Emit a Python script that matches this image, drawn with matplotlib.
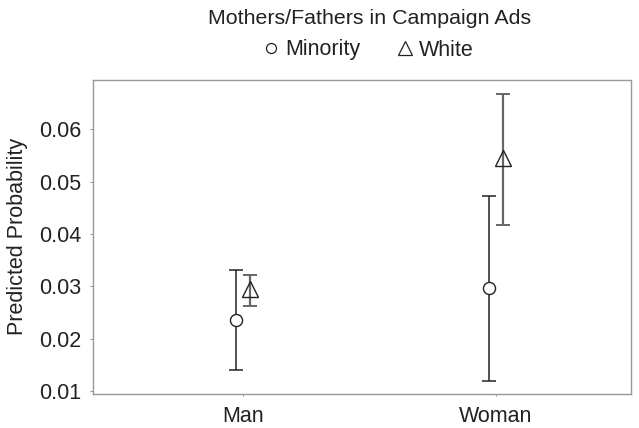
import matplotlib
matplotlib.use("Agg")
from matplotlib import pyplot as plt
from matplotlib.lines import Line2D

plt.rcParams['font.family'] = ['Liberation Sans', 'DejaVu Sans']

# datos
categorias = ["Man", "Woman"]
minoria = [0.0236, 0.0297]
minoria_lo = [0.0140, 0.0119]
minoria_hi = [0.0331, 0.0472]
blanco = [0.0295, 0.0545]
blanco_lo = [0.0262, 0.0417]
blanco_hi = [0.0322, 0.0667]

x = [1, 2]
d = 0.027

fig = plt.figure(figsize=(6.39, 4.28), dpi=100)
ax = fig.add_axes([93/639, 1-394/428, 538/639, 314/428])

# minoria
xm = [v - d for v in x]
err_m = [[minoria[i]-minoria_lo[i] for i in range(2)], [minoria_hi[i]-minoria[i] for i in range(2)]]
ax.errorbar(xm, minoria, yerr=err_m, fmt='none', ecolor='#222222', elinewidth=1.1, capsize=4.7, capthick=1.1, zorder=2)
ax.plot(xm, minoria, linestyle='none', marker='o', markersize=8.7, markerfacecolor='white',
        markeredgecolor='#222222', markeredgewidth=1.0, zorder=3)

# blanco
xb = [v + d for v in x]
err_b = [[blanco[i]-blanco_lo[i] for i in range(2)], [blanco_hi[i]-blanco[i] for i in range(2)]]
ax.errorbar(xb, blanco, yerr=err_b, fmt='none', ecolor='#666666', elinewidth=1.6, capsize=4.7, capthick=1.4, zorder=2)
ax.plot(xb, blanco, linestyle='none', marker='^', markersize=11, markerfacecolor='none',
        markeredgecolor='#222222', markeredgewidth=1.0, zorder=3)

ax.set_xlim(0.407, 2.534)
ax.set_ylim(0.0094, 0.0694)
ax.set_xticks(x)
ax.set_xticklabels(categorias)
ax.set_yticks([0.01, 0.02, 0.03, 0.04, 0.05, 0.06])
ax.set_yticklabels(["0.01", "0.02", "0.03", "0.04", "0.05", "0.06"])
ax.tick_params(axis='both', labelsize=15.5, colors='#999999', labelcolor='#222222', width=0.8)
ax.tick_params(axis='y', length=2.5, pad=6)
ax.tick_params(axis='x', length=1.5, pad=7)
for s in ax.spines.values():
    s.set_color('#999999')
    s.set_linewidth(1.0)
ax.set_ylabel("Predicted Probability", fontsize=15.5, color='#222222')
ax.yaxis.set_label_coords(-0.121, 0.503)

fig.text(370/639, 1-18/428, "Mothers/Fathers in Campaign Ads", fontsize=15.4, color='#222222',
         ha='center', va='center')

h = [Line2D([], [], linestyle='none', marker='o', markersize=7.2, markerfacecolor='white',
            markeredgecolor='#222222', markeredgewidth=0.9),
     Line2D([], [], linestyle='none', marker='^', markersize=10, markerfacecolor='white',
            markeredgecolor='#222222', markeredgewidth=0.9)]
fig.legend(h, ["Minority", "White"], loc='center', bbox_to_anchor=(368/639, 1-50/428), ncol=2,
           frameon=False, fontsize=15.5, handlelength=0.8, handletextpad=0.25, columnspacing=1.7,
           labelcolor='#222222', borderpad=0, borderaxespad=0)

fig.savefig("out.png", dpi=100)
